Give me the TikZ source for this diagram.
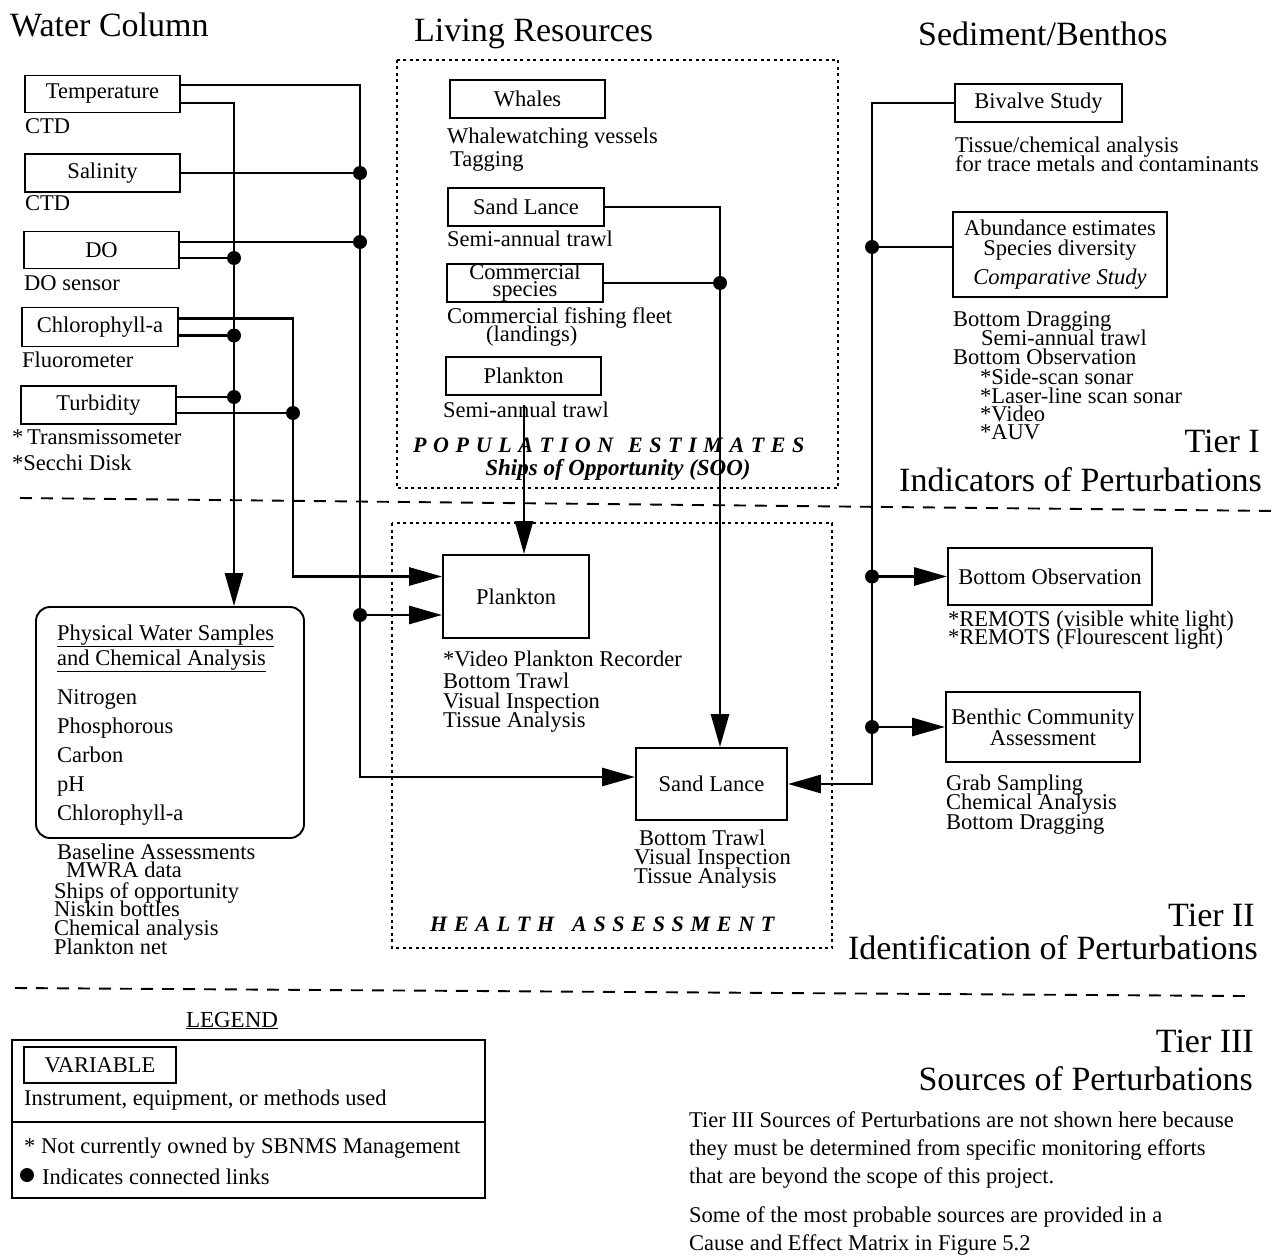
\documentclass[tikz,border=0pt]{standalone}
\usepackage{fontspec}
\setmainfont{Liberation Serif}
\usetikzlibrary{arrows.meta}
\newcommand\myfs[1]{\fontsize{#1}{#1}\selectfont}
\newcommand\putl[5][]{\node[lbl,#1] (#2) at (#3,#4) {#5};}
\newcommand\lsp{\kern6.6pt}
\newcommand\hsp{\kern6.7pt}
\begin{document}
\begin{tikzpicture}[x=1pt,y=-1pt,
 lbl/.style={anchor=base west,inner sep=0pt,font=\myfs{22.5}},
 box/.style={draw,line width=1.9pt,inner sep=0pt,font=\myfs{22.5},align=center},
 conn/.style={line width=2.8pt},
 arr/.style={conn,-{Triangle[length=33pt,width=18pt]}},
 dot/.style={circle,fill,inner sep=0pt,minimum size=14pt},
 dotframe/.style={line width=1.4pt,dash pattern=on 3pt off 3.5pt},
 sepline/.style={line width=1.9pt,dash pattern=on 12pt off 9pt},
 head/.style={anchor=base west,inner sep=0pt,font=\myfs{34}},
 headr/.style={anchor=base east,inner sep=0pt,font=\myfs{34}},
]
\fill[white] (0,0) rectangle (1276,1257);
\useasboundingbox (0,0) rectangle (1276,1257);

% headers
\node[head] (hwc) at (10,37) {Water Column};
\node[head] (hlr) at (414,42) {Living Resources};
\node[head] (hsb) at (918,46) {Sediment/Benthos};

% ---------- Water column ----------
\node[box,minimum width=155pt,minimum height=37pt] (temp) at (102.5,94) {Temperature};
\node[box,minimum width=155pt,minimum height=38pt] (sal) at (102.5,173) {Salinity};
\node[box,minimum width=155pt,minimum height=37pt] (do) at (101.5,250) {DO};
\node[box,minimum width=156pt,minimum height=39pt] (chl) at (100,327) {Chlorophyll-a};
\node[box,minimum width=155pt,minimum height=38pt] (turb) at (98.5,405) {Turbidity};
\putl{ctd1}{25}{134}{CTD}
\putl{ctd2}{25}{211}{CTD}
\putl{dos}{24}{290}{DO sensor}
\putl{fluo}{22}{367}{Fluorometer}
\putl{trans}{12}{444}{*\,Transmissometer}
\putl{secchi}{12}{470}{*Secchi Disk}

% physical water samples
\node[draw,line width=1.9pt,rounded corners=14pt,minimum width=268pt,minimum height=231pt,inner sep=0pt] (psw) at (170,722.5) {};
\putl{pswa}{57}{640}{\underline{Physical Water Samples}}
\putl{pswb}{57}{665}{\underline{and Chemical Analysis}}
\putl{nit}{57}{704}{Nitrogen}
\putl{pho}{57}{733}{Phosphorous}
\putl{car}{57}{762}{Carbon}
\putl{ph}{57}{791}{pH}
\putl{chla}{57}{820}{Chlorophyll-a}
\putl{bas}{57}{859}{Baseline Assessments}
\putl{mwra}{66}{877}{MWRA data}
\putl{shp}{54}{898}{Ships of opportunity}
\putl{nis}{54}{916}{Niskin bottles}
\putl{chan}{54}{935}{Chemical analysis}
\putl{pnet}{54}{954}{Plankton net}

% ---------- Living resources ----------
\draw[dotframe] (397,60) rectangle (838,488);
\node[box,minimum width=155pt,minimum height=38pt] (whales) at (527.5,99) {Whales};
\node[box,minimum width=156pt,minimum height=38pt] (sl1) at (526,207) {Sand Lance};
\node[box,minimum width=156pt,minimum height=38pt,font={\fontsize{22.5}{17}\selectfont}] (comm) at (525,283) {Commercial\\species};
\node[box,minimum width=155pt,minimum height=38pt] (plank1) at (523.5,376) {Plankton};
\putl{ww}{447}{144}{Whalewatching vessels}
\putl{tag}{450}{167}{Tagging}
\putl{sat1}{447}{247}{Semi-annual trawl}
\putl{cff}{447}{323}{Commercial fishing fleet}
\putl{land}{486}{341}{(landings)}
\putl{sat2}{443}{417}{Semi-annual trawl}
\node[lbl,font=\myfs{22}\bfseries\itshape] (pop) at (413,452)
 {P\lsp O\lsp P\lsp U\lsp L\lsp A\lsp T\lsp I\lsp O\lsp N\kern15pt E\lsp S\lsp T\lsp I\lsp M\lsp A\lsp T\lsp E\lsp S};
\node[anchor=base,inner sep=0pt,font=\myfs{23}\bfseries\itshape] (soo) at (618,475) {Ships of Opportunity (SOO)};

% ---------- Health assessment ----------
\draw[dotframe] (392,523) rectangle (832,948);
\node[box,minimum width=146pt,minimum height=83pt] (plank2) at (516,596.5) {Plankton};
\node[box,minimum width=151pt,minimum height=72pt] (sl2) at (711.5,784) {Sand Lance};
\putl{vpr}{443}{666}{*Video Plankton Recorder}
\putl{bta}{443}{688}{Bottom Trawl}
\putl{via}{443}{708}{Visual Inspection}
\putl{taa}{443}{727}{Tissue Analysis}
\putl{btb}{639}{845}{Bottom Trawl}
\putl{vib}{634}{864}{Visual Inspection}
\putl{tab}{634}{883}{Tissue Analysis}
\node[lbl,font=\myfs{22}\bfseries\itshape] (health) at (430,931)
 {H\hsp E\hsp A\hsp L\hsp T\hsp H\kern18pt A\hsp S\hsp S\hsp E\hsp S\hsp S\hsp M\hsp E\hsp N\hsp T};

% ---------- Sediment / Benthos ----------
\node[box,minimum width=167pt,minimum height=38pt] (bivalve) at (1038.5,103) {Bivalve Study};
\node[box,minimum width=214pt,minimum height=85pt,font={\fontsize{22.5}{20}\selectfont}] (abund) at (1060,254.5)
 {Abundance estimates\\Species diversity\\[8pt]\textit{Comparative Study}};
\putl{tca}{955}{153}{Tissue/chemical analysis}
\putl{ftm}{955}{172}{for trace metals and contaminants}
\putl{bda}{953}{326}{Bottom Dragging}
\putl{sat3}{981}{345}{Semi-annual trawl}
\putl{boa}{953}{364}{Bottom Observation}
\putl{sss}{980}{384}{*Side-scan sonar}
\putl{lls}{980}{403}{*Laser-line scan sonar}
\putl{vid}{980}{421}{*Video}
\putl{auv}{980}{439}{*AUV}
\node[headr] (t1a) at (1260,452) {Tier I};
\node[headr] (t1b) at (1262,491) {Indicators of Perturbations};

\node[box,minimum width=204pt,minimum height=57pt] (botobs) at (1050,576.5) {Bottom Observation};
\node[box,minimum width=194pt,minimum height=70pt,font={\fontsize{22.5}{19}\selectfont}] (benthic) at (1043,727) {Benthic Community\\Assessment};
\putl{rema}{948}{626}{*REMOTS (visible white light)}
\putl{remb}{948}{644}{*REMOTS (Flourescent light)}
\putl{grab}{946}{790}{Grab Sampling}
\putl{chb}{946}{809}{Chemical Analysis}
\putl{bdb}{946}{829}{Bottom Dragging}
\node[headr] (t2a) at (1255,926) {Tier II};
\node[headr] (t2b) at (1258,959) {Identification of Perturbations};

% separators
\draw[sepline] (20,498) -- (1276,511);
\draw[sepline] (15,988) -- (1245,996);

% ---------- connectors: water column ----------
\node[dot] (dC1) at (360,173) {};
\node[dot] (dC2) at (360,242) {};
\node[dot] (dC3) at (360,615) {};
\node[dot] (dA1) at (234,258) {};
\node[dot] (dA2) at (234,335.5) {};
\node[dot] (dA3) at (234,397) {};
\node[dot] (dB1) at (293,413) {};
\coordinate (jB) at (293,576.5);
\coordinate (jC) at (360,777);
\draw[arr] ([yshift=9pt]temp.east) -| (jC) -- ([yshift=7pt]sl2.west);
\draw[arr] ([yshift=-9pt]temp.east) -| ([xshift=64pt]psw.north);
\draw[conn] (sal.east) -- (dC1);
\draw[conn] ([yshift=8pt]do.east) -- (dC2);
\draw[conn] ([yshift=-8pt]do.east) -- (dA1);
\draw[arr] ([yshift=8.5pt]chl.east) -| (jB) -- ([yshift=20pt]plank2.west);
\draw[conn] ([yshift=-8.5pt]chl.east) -- (dA2);
\draw[conn] ([yshift=8pt]turb.east) -- (dA3);
\draw[conn] ([yshift=-8pt]turb.east) -- (dB1);
\draw[arr] (dC3) -- ([yshift=-18.5pt]plank2.west);

% ---------- connectors: living resources ----------
\node[dot] (dL1) at (720,283) {};
\draw[arr] (sl1.east) -| ([xshift=8.5pt]sl2.north);
\draw[conn] (comm.east) -- (dL1);
\coordinate (p1s) at (524,405);
\draw[arr] (p1s) -- (p1s |- plank2.north);

% ---------- connectors: sediment ----------
\coordinate (jR) at (872,784);
\node[dot] (dR1) at (872,247) {};
\node[dot] (dR2) at (872,576.5) {};
\node[dot] (dR3) at (872,727) {};
\draw[arr] (bivalve.west) -| (jR) -- (sl2.east);
\draw[conn] (dR1) -- ([yshift=7.5pt]abund.west);
\draw[arr] (dR2) -- (botobs.west);
\draw[arr] (dR3) -- (benthic.west);

% ---------- legend ----------
\node[anchor=base,inner sep=0pt,font=\myfs{23}] (lgd) at (232,1027) {\underline{LEGEND}};
\draw[line width=1.9pt] (12,1040) rectangle (485,1198);
\draw[line width=1.9pt] (12,1122) -- (485,1122);
\node[box,minimum width=152pt,minimum height=36pt] (var) at (100,1065) {VARIABLE};
\putl{inst}{24}{1105}{Instrument, equipment, or methods used}
\putl{notc}{24}{1153}{* Not currently owned by SBNMS Management}
\node[dot] (ldot) at (27,1175) {};
\putl{indc}{42}{1184}{Indicates connected links}

% ---------- tier III ----------
\node[headr] (t3a) at (1254,1052) {Tier III};
\node[headr] (t3b) at (1253,1090) {Sources of Perturbations};
\putl{pa}{689}{1127}{Tier III Sources of Perturbations are not shown here because}
\putl{pb}{689}{1155}{they must be determined from specific monitoring efforts}
\putl{pc}{689}{1183}{that are beyond the scope of this project.}
\putl{pd}{689}{1222}{Some of the most probable sources are provided in a}
\putl{pe}{689}{1250}{Cause and Effect Matrix in Figure 5.2}
\end{tikzpicture}
\end{document}
